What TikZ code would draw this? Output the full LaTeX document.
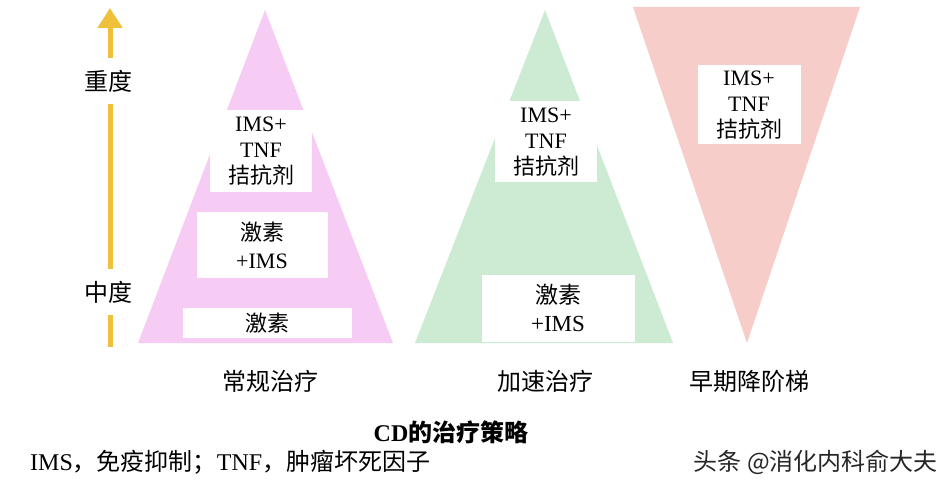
\documentclass[tikz,border=0pt]{standalone}
\usepackage{fontspec}
\setmainfont{Liberation Serif}
\newfontfamily\cjk{Noto Sans CJK SC}
\usepackage{tikz}
\usetikzlibrary{arrows.meta}
\definecolor{pinkfill}{HTML}{F6CCF4}
\definecolor{greenfill}{HTML}{CDEAD3}
\definecolor{redfill}{HTML}{F7CDC9}
\definecolor{goldline}{HTML}{EFC13A}
\tikzstyle{whitebox}=[fill=white, inner sep=0pt, align=center, font=\fontsize{22}{26}\selectfont]
\tikzstyle{tlabel}=[inner sep=0pt, font=\cjk\fontsize{24}{26}\selectfont]
\tikzstyle{level}=[fill=white, inner xsep=0pt, inner ysep=12pt, font=\cjk\fontsize{24}{26}\selectfont]
\tikzstyle{note}=[inner sep=0pt, font=\fontsize{24}{26}\selectfont]

\begin{document}
\begin{tikzpicture}[x=1pt, y=-1pt]
        \useasboundingbox[fill=white] (0, 0) rectangle (952, 489);
        % severity arrow
        \coordinate (Abot) at (110, 347);
        \coordinate (Atop) at (110, 8);
        \draw[goldline, line width=5pt, -{Triangle[width=24pt, length=20pt]}] (Abot) -- (Atop);
        \node[level] (severe) at (108, 81) {重度};
        \node[level] (moderate) at (108, 292) {中度};
        % conventional
        \coordinate (P1) at (138, 343);
        \coordinate (P2) at (393, 343);
        \coordinate (P3) at (265, 10);
        \fill[pinkfill] (P1) -- (P2) -- (P3) -- cycle;
        \node[whitebox, minimum width=102pt, minimum height=82pt] (Ptop) at (261, 151) {IMS+\\TNF\\\cjk 拮抗剂};
        \node[whitebox, minimum width=131pt, minimum height=66pt, font=\fontsize{22}{28}\selectfont] (Pmid) at (262, 245) {{\cjk 激素}\\+IMS};
        \node[whitebox, minimum width=169pt, minimum height=30pt] (Pbot) at (267, 323) {\cjk 激素};
        % accelerated
        \coordinate (G1) at (415, 343);
        \coordinate (G2) at (673, 343);
        \coordinate (G3) at (545, 10);
        \fill[greenfill] (G1) -- (G2) -- (G3) -- cycle;
        \node[whitebox, minimum width=102pt, minimum height=81pt] (Gtop) at (546, 142) {IMS+\\TNF\\\cjk 拮抗剂};
        \node[whitebox, minimum width=153pt, minimum height=67pt, font=\fontsize{23}{28}\selectfont] (Gbot) at (558, 308) {{\cjk 激素}\\+IMS};
        % early step-down
        \coordinate (R1) at (633, 7);
        \coordinate (R2) at (860, 7);
        \coordinate (R3) at (747, 343);
        \fill[redfill] (R1) -- (R2) -- (R3) -- cycle;
        \node[whitebox, minimum width=103pt, minimum height=79pt] (Rtop) at (749, 105) {IMS+\\TNF\\\cjk 拮抗剂};
        % captions
        \node[tlabel] (conv) at (270, 381) {常规治疗};
        \node[tlabel] (accel) at (545, 381) {加速治疗};
        \node[tlabel] (early) at (749, 381) {早期降阶梯};
        \node[note, font=\bfseries\fontsize{24}{26}\selectfont] (title) at (451, 432) {CD{\cjk 的治疗策略}};
        \node[note, anchor=west] (legend) at (30, 462) {IMS{\cjk ，免疫抑制；}TNF{\cjk ，肿瘤坏死因子}};
        \node[note, anchor=east, text=black!85] (mark) at (938, 462) {\cjk 头条 @消化内科俞大夫};
    \end{tikzpicture}
\end{document}
